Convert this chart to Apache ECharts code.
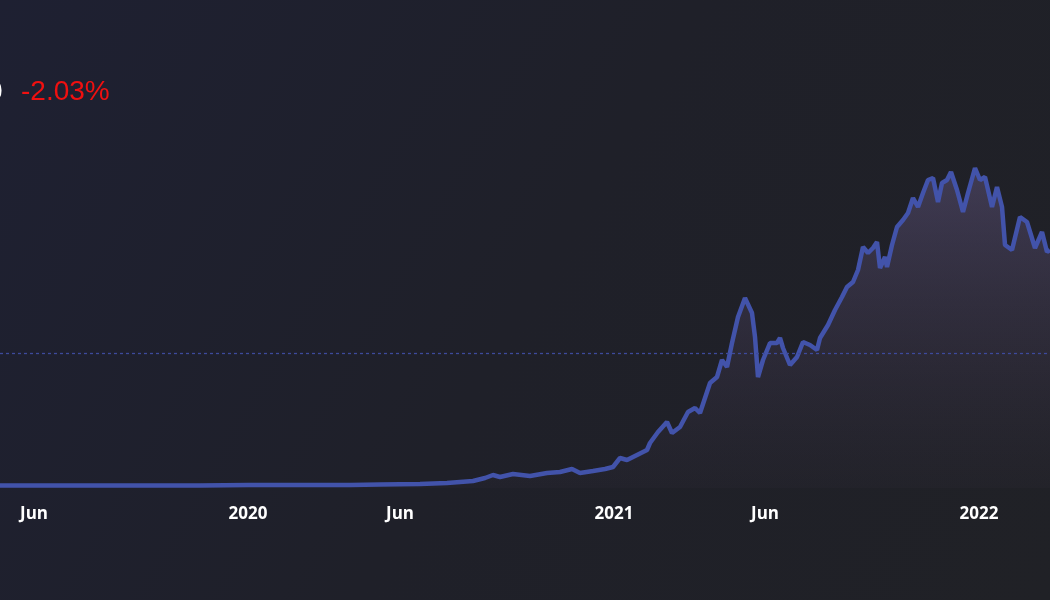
<!DOCTYPE html>
<html>
<head>
<meta charset="utf-8">
<title>TVL chart</title>
<script src="https://cdn.jsdelivr.net/npm/echarts@6/dist/echarts.min.js"></script>
<style>
  html, body { margin: 0; padding: 0; background: #1f2029; }
  #chart { width: 1050px; height: 600px; }
</style>
</head>
<body>
<div id="chart"></div>
<script>
// dates of the sampled points
var dates = [
  '2019-04-28', '2019-08-06', '2019-11-14', '2020-01-01', '2020-02-22', '2020-04-12',
  '2020-05-12', '2020-06-21', '2020-07-18', '2020-08-13', '2020-08-25', '2020-09-02',
  '2020-09-09', '2020-09-22', '2020-10-09', '2020-10-26', '2020-11-08', '2020-11-20',
  '2020-11-28', '2020-12-11', '2020-12-23', '2020-12-31', '2021-01-07', '2021-01-14',
  '2021-01-24', '2021-02-03', '2021-02-06', '2021-02-14', '2021-02-23', '2021-02-28',
  '2021-03-08', '2021-03-16', '2021-03-23', '2021-03-28', '2021-04-07', '2021-04-14',
  '2021-04-19', '2021-04-24', '2021-04-29', '2021-05-05', '2021-05-12', '2021-05-19',
  '2021-05-22', '2021-05-25', '2021-05-30', '2021-06-06', '2021-06-13', '2021-06-16',
  '2021-06-19', '2021-06-26', '2021-07-03', '2021-07-09', '2021-07-16', '2021-07-23',
  '2021-07-26', '2021-08-03', '2021-08-10', '2021-08-17', '2021-08-22', '2021-08-28',
  '2021-09-02', '2021-09-07', '2021-09-12', '2021-09-17', '2021-09-21', '2021-09-24',
  '2021-09-29', '2021-10-01', '2021-10-06', '2021-10-11', '2021-10-17', '2021-10-22',
  '2021-10-27', '2021-11-01', '2021-11-06', '2021-11-11', '2021-11-16', '2021-11-21',
  '2021-11-25', '2021-11-30', '2021-12-04', '2021-12-10', '2021-12-16', '2021-12-21',
  '2021-12-28', '2022-01-02', '2022-01-07', '2022-01-14', '2022-01-19', '2022-01-24',
  '2022-01-27', '2022-02-03', '2022-02-11', '2022-02-18', '2022-02-26', '2022-03-05',
  '2022-03-10', '2022-03-13'
];

// values (billions)
var values = [
  2.0, 2.0, 2.0, 2.4, 2.4, 2.4,
  2.8, 3.2, 4.0, 5.6, 8.0, 10.4,
  8.8, 11.2, 9.6, 12.0, 12.8, 15.2,
  12.0, 13.6, 15.2, 16.8, 24.0, 22.4,
  26.4, 30.4, 36.0, 44.8, 52.8, 44.0,
  48.8, 60.8, 64.0, 60.0, 84.0, 88.8,
  102.4, 96.8, 116.0, 136.8, 152.0, 140.0,
  120.8, 88.8, 102.4, 116.0, 116.0, 120.0,
  112.0, 98.4, 104.8, 116.8, 114.4, 110.4,
  120.0, 130.4, 142.4, 152.8, 160.8, 164.8,
  174.4, 192.8, 188.0, 192.0, 196.8, 176.0,
  184.8, 176.8, 194.4, 208.8, 214.4, 220.0,
  232.0, 224.8, 236.0, 246.4, 248.0, 228.8,
  244.0, 246.4, 252.8, 238.4, 220.8, 236.0,
  256.0, 246.4, 248.8, 224.8, 240.8, 224.8,
  194.4, 190.4, 216.8, 212.8, 192.0, 204.8,
  188.8, 190.4
];

// tick label dates
var tickDates = ['2019-06-01', '2020-01-01', '2020-06-01', '2021-01-01', '2021-06-01', '2022-01-01'];
var monthNames = ['Jan', 'Feb', 'Mar', 'Apr', 'May', 'Jun', 'Jul', 'Aug', 'Sep', 'Oct', 'Nov', 'Dec'];

var refValue = 108;
var changeText = '-2.03%';

function toTime(s) {
  var p = s.split('-');
  return new Date(+p[0], +p[1] - 1, +p[2]).getTime();
}

var seriesData = dates.map(function (d, i) { return [toTime(d), values[i]]; });

var chart = echarts.init(document.getElementById('chart'));
var option = {
  backgroundColor: new echarts.graphic.LinearGradient(0, 0, 1, 1, [
    { offset: 0, color: '#1e2032' },
    { offset: 0.5, color: '#1f2029' },
    { offset: 1, color: '#202126' }
  ]),
  animation: false,
  graphic: [
    {
      type: 'text', x: -13, y: 92,
      style: { text: '0', fill: '#ffffff', font: '28px "Liberation Sans"', verticalAlign: 'middle' }
    },
    {
      type: 'text', x: 21, y: 92,
      style: { text: changeText, fill: '#f01010', font: '28px "Liberation Sans"', verticalAlign: 'middle' }
    }
  ],
  grid: { left: 0, right: 0, top: 88, bottom: 112 },
  xAxis: {
    type: 'value',
    min: toTime('2019-04-28'),
    max: toTime('2022-03-13'),
    axisLine: { show: false },
    axisTick: { show: false },
    splitLine: { show: false },
    axisLabel: {
      customValues: tickDates.map(toTime),
      margin: 18,
      color: '#ffffff',
      fontFamily: 'Open Sans',
      fontWeight: 'bold',
      fontSize: 17,
      formatter: function (val) {
        var d = new Date(val);
        return d.getMonth() === 0 ? String(d.getFullYear()) : monthNames[d.getMonth()];
      }
    }
  },
  yAxis: {
    type: 'value',
    min: 0,
    max: 320,
    show: false,
    splitLine: { show: false }
  },
  series: [
    {
      type: 'line',
      data: seriesData,
      showSymbol: false,
      symbol: 'none',
      lineStyle: { color: '#4253aa', width: 4.5 },
      areaStyle: {
        color: new echarts.graphic.LinearGradient(0, 0, 0, 1, [
          { offset: 0, color: 'rgba(110, 96, 145, 0.6)' },
          { offset: 0.6, color: 'rgba(80, 68, 100, 0.35)' },
          { offset: 1, color: 'rgba(60, 52, 70, 0.15)' }
        ])
      },
      markLine: {
        silent: true,
        symbol: 'none',
        label: { show: false },
        lineStyle: { color: '#3d4a9c', opacity: 1, type: [3, 3], width: 1.3 },
        data: [{ yAxis: refValue }]
      }
    }
  ]
};
chart.setOption(option);
</script>
</body>
</html>
